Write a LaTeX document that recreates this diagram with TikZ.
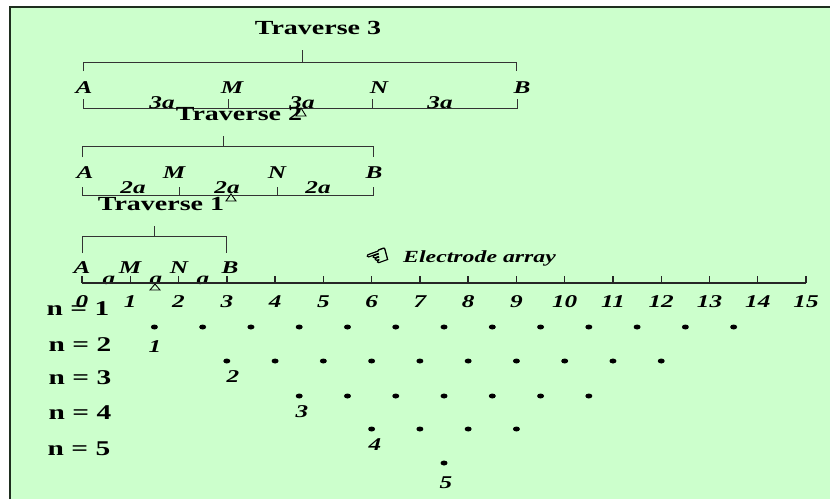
\documentclass[tikz,border=0pt]{standalone}
\usepackage{fontspec}
\setmainfont{Liberation Serif}
\newfontfamily\stserif[FakeStretch=1.4]{Liberation Serif}
\newfontfamily\symfont[FakeBold=2.5]{DejaVu Sans}
\usetikzlibrary{shapes.geometric}
\definecolor{bgreen}{HTML}{CCFFCC}
\definecolor{frame}{HTML}{1E2E1E}
\tikzset{
  lbl/.style={font=\stserif\bfseries\itshape\fontsize{18}{18}\selectfont, inner sep=0pt},
  smlbl/.style={font=\stserif\bfseries\itshape\fontsize{17}{17}\selectfont, inner sep=0pt},
  trav/.style={font=\stserif\bfseries\fontsize{20}{20}\selectfont, inner sep=0pt},
  nlab/.style={font=\stserif\bfseries\fontsize{21}{21}\selectfont, inner sep=0pt},
  brk/.style={draw=black!80, line width=1pt},
  axisline/.style={draw=black!85, line width=1.4pt},
  dotnode/.style={ellipse, fill=black, minimum width=7pt, minimum height=5pt, inner sep=0pt},
  tri/.style={draw=black, line width=0.9pt, fill=bgreen}
}
\begin{document}
\begin{tikzpicture}[x=1pt,y=-1pt]
\useasboundingbox (0,0) rectangle (830,499);
\fill[white] (0,0) rectangle (830,499);
\fill[bgreen] (10,7) rectangle (830,499);
\draw[frame, line width=2.2pt] (10,499) -- (10,7) -- (830,7);

% ---------- Traverse 3 ----------
\node[trav] (T3) at (318,28) {Traverse 3};
\coordinate (t3a) at (83,71); \coordinate (t3b) at (83,62);
\coordinate (t3c) at (516,62); \coordinate (t3d) at (516,71);
\draw[brk] (t3a) -- (t3b) -- (t3c) -- (t3d);
\coordinate (t3m) at (302,62); \coordinate (t3mt) at (302,50);
\draw[brk] (t3m) -- (t3mt);
\node[lbl] (A3) at (84,88) {A};
\node[lbl] (M3) at (232,88) {M};
\node[lbl] (N3) at (379,88) {N};
\node[lbl] (B3) at (522,88) {B};
\coordinate (b3a) at (83,99); \coordinate (b3b) at (83,108);
\coordinate (b3c) at (517,108); \coordinate (b3d) at (517,99);
\draw[brk] (b3a) -- (b3b) -- (b3c) -- (b3d);
\coordinate (b3m) at (228,108); \coordinate (b3mt) at (228,99);
\coordinate (b3n) at (372,108); \coordinate (b3nt) at (372,99);
\draw[brk] (b3m) -- (b3mt) (b3n) -- (b3nt);
\node[lbl] (s31) at (162,103) {3a};
\node[lbl] (s32) at (302,103) {3a};
\node[lbl] (s33) at (440,103) {3a};
\draw[tri] (301,108) -- (296,116) -- (306,116) -- cycle;

% ---------- Traverse 2 ----------
\node[trav] (T2) at (239,114) {Traverse 2};
\coordinate (t2a) at (82,157); \coordinate (t2b) at (82,146);
\coordinate (t2c) at (373,146); \coordinate (t2d) at (373,157);
\draw[brk] (t2a) -- (t2b) -- (t2c) -- (t2d);
\coordinate (t2m) at (223,146); \coordinate (t2mt) at (223,136);
\draw[brk] (t2m) -- (t2mt);
\node[lbl] (A2) at (85,173) {A};
\node[lbl] (M2) at (174,173) {M};
\node[lbl] (N2) at (277,173) {N};
\node[lbl] (B2) at (374,173) {B};
\coordinate (b2a) at (82,187); \coordinate (b2b) at (82,195);
\coordinate (b2c) at (373,195); \coordinate (b2d) at (373,187);
\draw[brk] (b2a) -- (b2b) -- (b2c) -- (b2d);
\coordinate (b2m) at (179,195); \coordinate (b2mt) at (179,187);
\coordinate (b2n) at (277,195); \coordinate (b2nt) at (277,187);
\draw[brk] (b2m) -- (b2mt) (b2n) -- (b2nt);
\node[lbl] (s21) at (133,188) {2a};
\node[lbl] (s22) at (227,188) {2a};
\node[lbl] (s23) at (318,188) {2a};
\draw[tri] (231,194) -- (226,201) -- (236,201) -- cycle;

% ---------- Traverse 1 ----------
\node[trav] (T1) at (161,204) {Traverse 1};
\coordinate (t1a) at (82,253); \coordinate (t1b) at (82,236);
\coordinate (t1c) at (226,236); \coordinate (t1d) at (226,253);
\draw[brk] (t1a) -- (t1b) -- (t1c) -- (t1d);
\coordinate (t1m) at (154,236); \coordinate (t1mt) at (154,226);
\draw[brk] (t1m) -- (t1mt);
\node[lbl] (A1) at (82,268) {A};
\node[lbl] (M1) at (130,268) {M};
\node[lbl] (N1) at (179,268) {N};
\node[lbl] (B1) at (230,268) {B};
\node[lbl] (s11) at (109,280) {a};
\node[lbl] (s12) at (156,280) {a};
\node[lbl] (s13) at (203,280) {a};
\draw[tri] (155,284) -- (150,290) -- (160,290) -- cycle;

% ---------- Electrode array ----------
\node[inner sep=0pt, rotate=20, font=\symfont\fontsize{27}{27}\selectfont] (hand) at (378,258) {☜};
\node[smlbl, anchor=west] (EA) at (403,258) {Electrode array};

% ---------- axis ----------
\coordinate (ax0) at (82,283);
\coordinate (ax15) at (806,283);
\draw[axisline] (ax0) -- (ax15);
\foreach \i in {0,...,15} {
  \pgfmathsetmacro\xx{82+48.27*\i}
  \coordinate (tk\i) at (\xx,283);
  \coordinate (tt\i) at (\xx,276);
  \draw[axisline] (tk\i) -- (tt\i);
  \node[lbl] (tl\i) at (\xx,302) {\i};
}

% ---------- n labels ----------
\node[nlab] (n1) at (78,309) {n = 1};
\node[nlab] (n2) at (80,345) {n = 2};
\node[nlab] (n3) at (80,378) {n = 3};
\node[nlab] (n4) at (80,413) {n = 4};
\node[nlab] (n5) at (79,449) {n = 5};

% ---------- data points ----------
\foreach \k/\yy in {1/327,2/361,3/396,4/429,5/463} {
  \pgfmathtruncatemacro\N{16-3*\k}
  \foreach \j in {1,...,\N} {
    \pgfmathsetmacro\xx{82+48.27*(1.5*\k+\j-1)}
    \node[dotnode] (d\k-\j) at (\xx,\yy) {};
  }
}
\node[lbl] (r1) at (155,347) {1};
\node[lbl] (r2) at (233,377) {2};
\node[lbl] (r3) at (302,412) {3};
\node[lbl] (r4) at (375,445) {4};
\node[lbl] (r5) at (446,483) {5};
\end{tikzpicture}
\end{document}
